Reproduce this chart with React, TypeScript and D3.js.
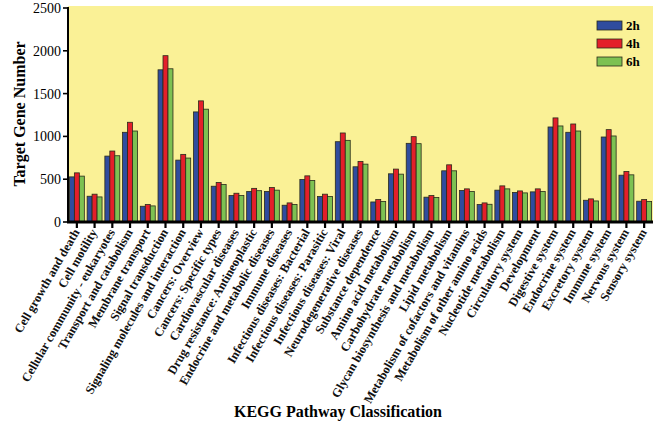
import React from 'react';
import * as d3 from 'd3';

const categories = [
  'Cell growth and death', 'Cell motility', 'Cellular community - eukaryotes', 'Transport and catabolism',
  'Membrane transport', 'Signal transduction', 'Signaling molecules and interaction', 'Cancers: Overview',
  'Cancers: Specific types', 'Cardiovascular diseases', 'Drug resistance: Antineoplastic',
  'Endocrine and metabolic diseases', 'Immune diseases', 'Infectious diseases: Bacterial',
  'Infectious diseases: Parasitic', 'Infectious diseases: Viral', 'Neurodegenerative diseases',
  'Substance dependence', 'Amino acid metabolism', 'Carbohydrate metabolism',
  'Glycan biosynthesis and metabolism', 'Lipid metabolism', 'Metabolism of cofactors and vitamins',
  'Metabolism of other amino acids', 'Nucleotide metabolism', 'Circulatory system', 'Development',
  'Digestive system', 'Endocrine system', 'Excretory system', 'Immune system', 'Nervous system',
  'Sensory system',
];

const series = ['2h', '4h', '6h'];

const values2h = [527, 301, 770, 1048, 184, 1778, 723, 1286, 418, 309, 356, 356, 196, 497, 298, 938, 645, 234, 563, 919, 290, 598, 368, 204, 372, 345, 352, 1110, 1048, 254, 993, 547, 243];
const values4h = [574, 325, 829, 1165, 204, 1943, 790, 1415, 462, 336, 393, 403, 223, 539, 325, 1040, 708, 262, 618, 997, 309, 668, 387, 223, 422, 363, 387, 1216, 1145, 270, 1079, 591, 262];
const values6h = [536, 293, 774, 1063, 188, 1790, 747, 1318, 438, 309, 366, 372, 204, 485, 298, 954, 676, 239, 559, 915, 286, 598, 356, 207, 387, 340, 356, 1122, 1063, 246, 1005, 551, 239];

const yTicks = [0, 500, 1000, 1500, 2000, 2500];
const colors = ['#2f4c9e', '#e41f2a', '#7dc152'];

const W = 664;
const H = 426;
const margin = { top: 6, right: 11, bottom: 204, left: 68 };
const serif = '"Liberation Serif", "Times New Roman", serif';

export default function App() {
  const seriesValues = [values2h, values4h, values6h];
  const x = d3.scaleBand<string>().domain(categories).range([margin.left, W - margin.right]).padding(0);
  const xs = d3.scaleBand<string>().domain(series).range([1.4, x.bandwidth() - 1.4]).padding(0);
  const y = d3.scaleLinear().domain([0, 2500]).range([H - margin.bottom, margin.top + 2]);
  const y0 = y(0);

  return (
    <svg width={W} height={H} style={{ position: 'absolute', left: 0, top: 0, background: '#fff' }} fontFamily={serif}>
      <rect x={margin.left} y={margin.top} width={W - margin.left - margin.right} height={y0 - margin.top} fill="#faf196" />
      {categories.map((c, i) => (
        <g key={c}>
          {series.map((s, j) => {
            const v = seriesValues[j][i];
            return (
              <rect key={s} x={(x(c) ?? 0) + (xs(s) ?? 0)} y={y(v)} width={xs.bandwidth()} height={y0 - y(v)}
                fill={colors[j]} stroke="#2a2a1a" strokeWidth={0.8} />
            );
          })}
        </g>
      ))}
      {/* y axis */}
      <line x1={margin.left} x2={margin.left} y1={y(2500) - 1} y2={y0} stroke="#000" strokeWidth={2} />
      {yTicks.map(t => (
        <g key={t}>
          <line x1={margin.left - 5} x2={margin.left} y1={y(t)} y2={y(t)} stroke="#000" strokeWidth={1.6} />
          <text x={margin.left - 7} y={y(t)} dy="0.35em" textAnchor="end" fontSize={14}>{t}</text>
        </g>
      ))}
      {/* x axis */}
      <line x1={margin.left - 1} x2={W - margin.right} y1={y0} y2={y0} stroke="#000" strokeWidth={3} />
      {categories.map(c => {
        const cx = (x(c) ?? 0) + x.bandwidth() / 2;
        return (
          <g key={c}>
            <line x1={cx} x2={cx} y1={y0} y2={y0 + 6} stroke="#000" strokeWidth={2.2} />
            <text transform={`translate(${cx + 3},${y0 + 10}) rotate(-60)`} textAnchor="end" fontSize={12.4}
              fontWeight="bold" fill="#111">{c}</text>
          </g>
        );
      })}
      <text transform={`translate(25,${(margin.top + y0) / 2}) rotate(-90)`} textAnchor="middle" fontSize={16}
        fontWeight="bold">Target Gene Number</text>
      <text x={338} y={417} textAnchor="middle" fontSize={16} fontWeight="bold">KEGG Pathway Classification</text>
      {/* legend */}
      {series.map((s, j) => (
        <g key={s} transform={`translate(597,${21 + j * 18})`}>
          <rect width={25} height={9} fill={colors[j]} stroke="#2a2a1a" strokeWidth={0.8} />
          <text x={29} y={9} fontSize={13} fontWeight="bold">{s}</text>
        </g>
      ))}
    </svg>
  );
}
